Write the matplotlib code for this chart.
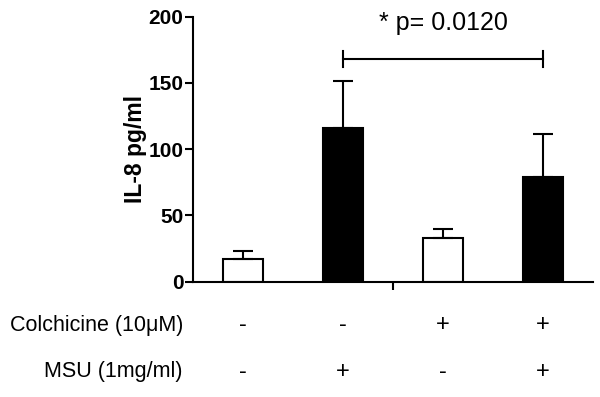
import numpy as np
from matplotlib import pyplot as plt
from matplotlib.transforms import blended_transform_factory

plt.rcParams['font.family'] = ['Liberation Sans', 'DejaVu Sans']

# data
means = [17.5, 116, 33, 79]
sems = [6, 35.5, 6.5, 32.5]
colors = ['white', 'black', 'white', 'black']
colchicine = ['-', '-', '+', '+']
msu = ['-', '+', '-', '+']
row_labels = ['Colchicine (10\u03bcM)', 'MSU (1mg/ml)']
p_text = '* p= 0.0120'
bracket = (1, 3, 168)  # from bar, to bar, height

fig = plt.figure(figsize=(6, 3.97), dpi=100)
ax = fig.add_axes([193 / 600, 1 - 281.7 / 397, 400 / 600, 265 / 397])

x = np.arange(len(means))
ax.bar(x, means, width=0.4, color=colors, edgecolor='black', linewidth=1.5)
ax.errorbar(x, means, yerr=[np.zeros(len(sems)), sems], fmt='none',
            ecolor='black', elinewidth=1.5, capsize=7.5, capthick=1.5)

ax.set_xlim(-0.5, 3.5)
ax.set_ylim(0, 200)
ax.set_yticks([0, 50, 100, 150, 200])
ax.set_xticks([1.5], labels=[''])
for s in ['top', 'right']:
    ax.spines[s].set_visible(False)
for s in ['left', 'bottom']:
    ax.spines[s].set_linewidth(1.5)
ax.tick_params(axis='both', width=1.5, length=6)
ax.tick_params(axis='y', labelsize=15, pad=1)
for lab in ax.get_yticklabels():
    lab.set_fontweight('bold')
ax.set_ylabel('IL-8 pg/ml', fontsize=16.5, fontweight='bold', labelpad=1)

# significance bracket
x0, x1, h = bracket
ax.plot([x0, x1], [h, h], color='black', lw=1.5, clip_on=False)
ax.plot([x0, x0], [h - 6, h + 6], color='black', lw=1.5, clip_on=False)
ax.plot([x1, x1], [h - 6, h + 6], color='black', lw=1.5, clip_on=False)
ax.text((x0 + x1) / 2, 195, p_text, ha='center', va='center', fontsize=18)

# condition table under the axis
tr = blended_transform_factory(ax.transData, fig.transFigure)
rows_y = [1 - 325 / 397, 1 - 372 / 397]
for yy, lab, signs in zip(rows_y, row_labels, [colchicine, msu]):
    fig.text(183 / 600, yy, lab, ha='right', va='center', fontsize=15.5)
    for xi, s in zip(x, signs):
        ax.text(xi, yy, s, transform=tr, ha='center', va='center', fontsize=17)

fig.savefig('out.png', dpi=100)
